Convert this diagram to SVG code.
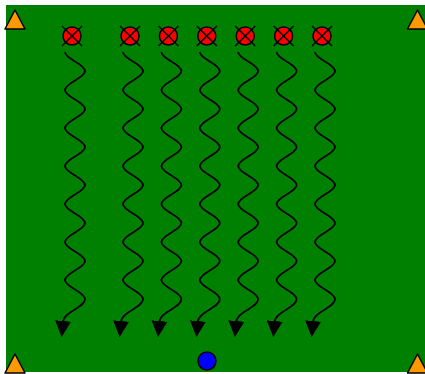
<svg xmlns="http://www.w3.org/2000/svg" width="425" height="374" viewBox="0 0 425 374">
<style>
.cone{fill:#ff9900;stroke:#000;stroke-width:1.5;stroke-linejoin:round}
.pc{fill:#ff0000;stroke:#000;stroke-width:1.5}
.px{stroke:#000;stroke-width:1.5}
.ball{fill:#0000ff;stroke:#000;stroke-width:1.5}
.run{fill:none;stroke:#000;stroke-width:1.8;marker-end:url(#ah)}
</style>
<defs>
<marker id="ah" markerUnits="userSpaceOnUse" markerWidth="16" markerHeight="16" viewBox="0 0 16 16" refX="1" refY="8" orient="auto">
<path d="M0,0 L16,8 L0,16 z" fill="#000"/>
</marker>
<g id="px"><circle class="pc" cx="0" cy="0" r="9"/><line class="px" x1="-10" y1="-10" x2="10" y2="10"/><line class="px" x1="-10" y1="10" x2="10" y2="-10"/></g>
</defs>
<rect x="6" y="5" width="421" height="367" fill="#008000"/>
<g id="connectors">
<path class="run" transform="translate(72,0)" d="M-7,52 C-7,59 13,64 13,71 S-7,83 -7,90 S13,102 13,109 S-7,121 -7,128 S13,140 13,147 S-7,159 -7,166 S13,178 13,185 S-7,197 -7,204 S13,216 13,223 S-7,235 -7,242 S13,254 13,261 S-7,273 -7,280 S13,292 13,299 C13,308 -8,311 -9,322"/>
<path class="run" transform="translate(130,0)" d="M-7,52 C-7,59 13,64 13,71 S-7,83 -7,90 S13,102 13,109 S-7,121 -7,128 S13,140 13,147 S-7,159 -7,166 S13,178 13,185 S-7,197 -7,204 S13,216 13,223 S-7,235 -7,242 S13,254 13,261 S-7,273 -7,280 S13,292 13,299 C13,308 -8,311 -9,322"/>
<path class="run" transform="translate(168.4,0)" d="M-7,52 C-7,59 13,64 13,71 S-7,83 -7,90 S13,102 13,109 S-7,121 -7,128 S13,140 13,147 S-7,159 -7,166 S13,178 13,185 S-7,197 -7,204 S13,216 13,223 S-7,235 -7,242 S13,254 13,261 S-7,273 -7,280 S13,292 13,299 C13,308 -8,311 -9,322"/>
<path class="run" transform="translate(206.8,0)" d="M-7,52 C-7,59 13,64 13,71 S-7,83 -7,90 S13,102 13,109 S-7,121 -7,128 S13,140 13,147 S-7,159 -7,166 S13,178 13,185 S-7,197 -7,204 S13,216 13,223 S-7,235 -7,242 S13,254 13,261 S-7,273 -7,280 S13,292 13,299 C13,308 -8,311 -9,322"/>
<path class="run" transform="translate(245.2,0)" d="M-7,52 C-7,59 13,64 13,71 S-7,83 -7,90 S13,102 13,109 S-7,121 -7,128 S13,140 13,147 S-7,159 -7,166 S13,178 13,185 S-7,197 -7,204 S13,216 13,223 S-7,235 -7,242 S13,254 13,261 S-7,273 -7,280 S13,292 13,299 C13,308 -8,311 -9,322"/>
<path class="run" transform="translate(283.6,0)" d="M-7,52 C-7,59 13,64 13,71 S-7,83 -7,90 S13,102 13,109 S-7,121 -7,128 S13,140 13,147 S-7,159 -7,166 S13,178 13,185 S-7,197 -7,204 S13,216 13,223 S-7,235 -7,242 S13,254 13,261 S-7,273 -7,280 S13,292 13,299 C13,308 -8,311 -9,322"/>
<path class="run" transform="translate(322,0)" d="M-7,52 C-7,59 13,64 13,71 S-7,83 -7,90 S13,102 13,109 S-7,121 -7,128 S13,140 13,147 S-7,159 -7,166 S13,178 13,185 S-7,197 -7,204 S13,216 13,223 S-7,235 -7,242 S13,254 13,261 S-7,273 -7,280 S13,292 13,299 C13,308 -8,311 -9,322"/>
</g>
<g id="cone-tl"><polygon class="cone" points="15,10 5,29 25,29"/></g>
<g id="cone-tr"><polygon class="cone" points="417.5,10 407.5,29 427.5,29"/></g>
<g id="cone-bl"><polygon class="cone" points="15,354 5,373 25,373"/></g>
<g id="cone-br"><polygon class="cone" points="417.5,354 407.5,373 427.5,373"/></g>
<g id="player1"><use href="#px" x="72" y="36"/></g>
<g id="player2"><use href="#px" x="130" y="36"/></g>
<g id="player3"><use href="#px" x="168.4" y="36"/></g>
<g id="player4"><use href="#px" x="206.8" y="36"/></g>
<g id="player5"><use href="#px" x="245.2" y="36"/></g>
<g id="player6"><use href="#px" x="283.6" y="36"/></g>
<g id="player7"><use href="#px" x="322" y="36"/></g>
<g id="ball"><circle class="ball" cx="207" cy="361" r="9"/></g>
</svg>
